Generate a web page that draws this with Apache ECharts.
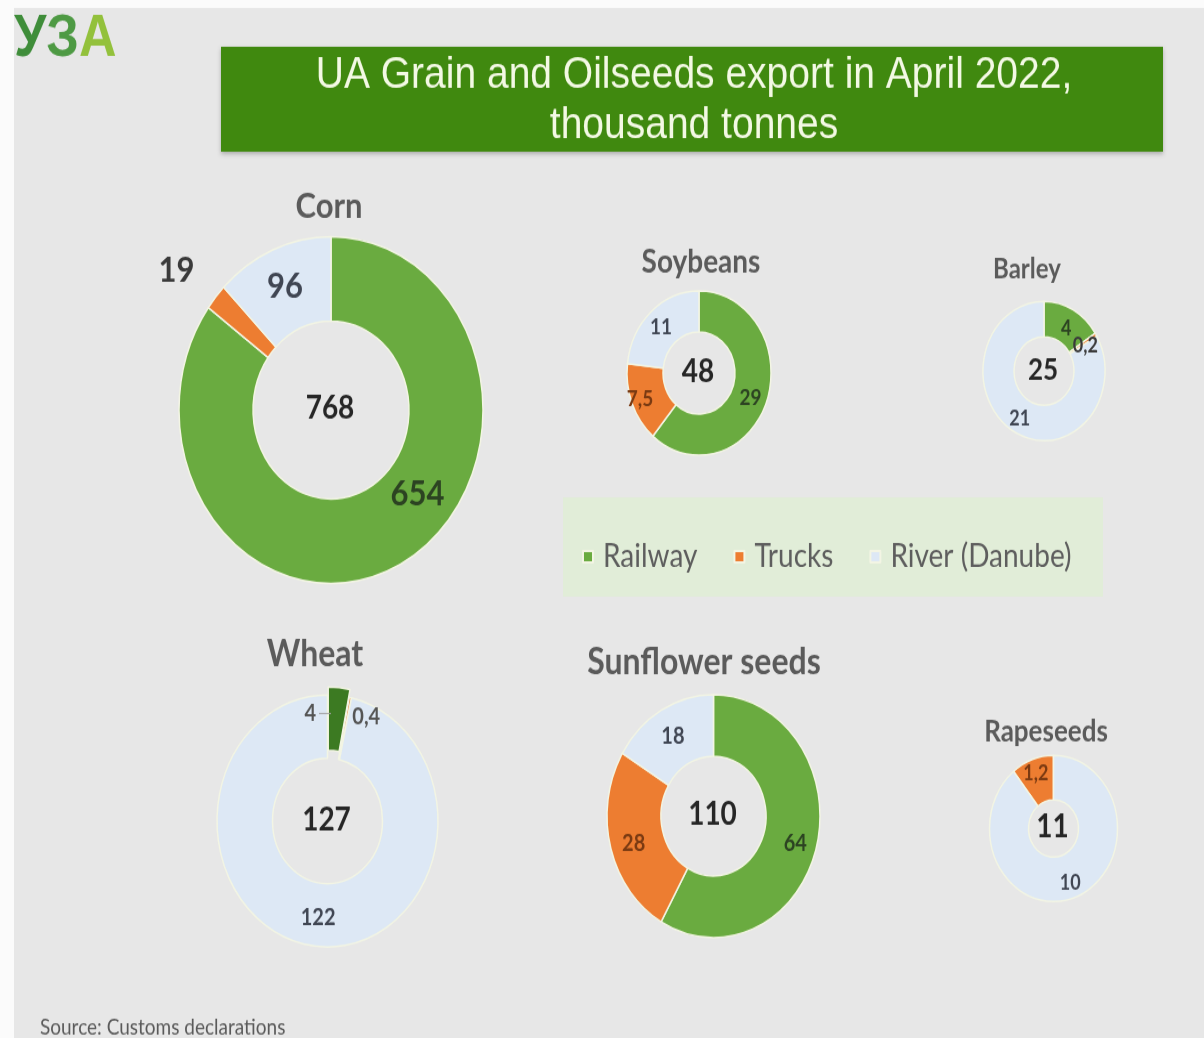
<!DOCTYPE html>
<html>
<head>
<meta charset="utf-8">
<script src="https://cdn.jsdelivr.net/npm/echarts@6/dist/echarts.min.js"></script>
<style>
  html, body { margin: 0; padding: 0; background: #ffffff; width: 1204px; height: 1038px; }
  /* the whole infographic is drawn on a 1204x910 canvas and stretched vertically */
  #chart { width: 1204px; height: 910px; transform: scaleY(1.1407); transform-origin: 0 0; }
</style>
</head>
<body>
<div id="chart"></div>
<script>
// ---- data (thousand tonnes) ----
const transportModes = ['Railway', 'Trucks', 'River (Danube)'];
const crops = ['Corn', 'Soybeans', 'Barley', 'Wheat', 'Sunflower seeds', 'Rapeseeds'];
const railway = [654, 29, 4, 4, 64, 0];
const trucks = [19, 7.5, 0.2, 0.4, 28, 1.2];
const river = [96, 11, 21, 122, 18, 10];
const totals = [768, 48, 25, 127, 110, 11];

// ---- styling ----
const modeColors = ['#6aab40', '#ed7d31', '#dde8f5'];
const modeLabelColors = ['#2c4322', '#7a3a12', '#404653'];
const BG = '#e7e7e7';
const FONT = 'Lato, "Open Sans", sans-serif';

// per-donut placement: centre, radii, heading position, font sizes and label nudges
const layout = [
  { cx: 331, cy: 359.4, r0: 78, r: 152, tx: 329, ty: 180.6, ts: 31, totSize: 28, lblSize: 31,
    offsets: [[33, -32], [-65, -46], [-1, 1]], labelColors: [null, '#3a3a3a', null], start: 90 },
  { cx: 699, cy: 327, r0: 36, r: 72, tx: 701, ty: 229.7, ts: 28, totSize: 28, lblSize: 19,
    offsets: [[-2, 2], [-6, 2], [0, 2]], labelColors: [null, null, null], start: 90 },
  { cx: 1044, cy: 325.2, r0: 30, r: 61, tx: 1027, ty: 235.8, ts: 24, totSize: 26, lblSize: 18,
    offsets: [[-1, 6], [0, 3], [0, 0]], labelColors: [null, '#3a3a3a', null], start: 90 },
  { cx: 327.5, cy: 719.7, r0: 55, r: 110.5, tx: 315, ty: 574, ts: 32, totSize: 28, lblSize: 20,
    offsets: [[-19, -2], [21, -7], [0, 0]], labelColors: ['#555555', '#555555', null], start: 90,
    explode: 0, explodeColor: '#3c7a22' },
  { cx: 713.5, cy: 715.4, r0: 52.5, r: 106.5, tx: 704, ty: 581, ts: 32, totSize: 28, lblSize: 20,
    offsets: [[2, 3], [0, 3], [0, 2]], labelColors: [null, null, null], start: 90 },
  { cx: 1053.5, cy: 726.3, r0: 25, r: 64, tx: 1046, ty: 641.7, ts: 26, totSize: 28, lblSize: 18,
    offsets: [[0, 0], [-2, -3], [1, 3]], labelColors: [null, null, null], start: 128.6 }
];

const fmt = v => String(v).replace('.', ',');

const series = crops.map((crop, i) => {
  const L = layout[i];
  const values = [railway[i], trucks[i], river[i]];
  const data = [];
  values.forEach((v, m) => {
    if (!(v > 0)) return;
    const item = {
      name: transportModes[m],
      value: v,
      itemStyle: { color: modeColors[m] },
      label: {
        offset: L.offsets[m],
        color: L.labelColors[m] || modeLabelColors[m]
      }
    };
    if (L.explode === m) {
      // pulled-out slice with a short leader dash after its value
      const lbl = {
        offset: L.offsets[m],
        color: L.labelColors[m],
        formatter: p => '{v|' + fmt(p.value) + '}{ln| }',
        rich: {
          v: { fontSize: L.lblSize, fontWeight: 'bold', fontFamily: FONT, color: L.labelColors[m], padding: [0, 3, 0, 0] },
          ln: { width: 12, height: 1, backgroundColor: '#a0a0a0', fontSize: 4 }
        }
      };
      item.selected = true;
      item.itemStyle.color = L.explodeColor;
      item.label = lbl;
      item.select = { label: lbl, itemStyle: { color: L.explodeColor } };
    }
    data.push(item);
  });
  return {
    type: 'pie',
    name: crop,
    center: [L.cx, L.cy],
    radius: [L.r0, L.r],
    startAngle: L.start,
    clockwise: true,
    avoidLabelOverlap: false,
    selectedMode: L.explode !== undefined ? 'single' : false,
    selectedOffset: 7,
    silent: true,
    emphasis: { disabled: true },
    select: { itemStyle: { color: L.explodeColor || modeColors[0], borderColor: '#f3f5e4', borderWidth: 1.5 } },
    itemStyle: { borderColor: '#f3f5e4', borderWidth: 1.5 },
    label: {
      show: true,
      position: 'inside',
      formatter: p => fmt(p.value),
      fontFamily: FONT,
      fontWeight: 'bold',
      fontSize: L.lblSize
    },
    labelLine: { show: false },
    data: data
  };
});

const logoFont = 'bold 52px "Liberation Sans", sans-serif';
const graphics = [
  // white margin strips
  { type: 'rect', shape: { x: 0, y: 0, width: 14, height: 910 }, style: { fill: '#fbfbfb' } },
  { type: 'rect', shape: { x: 0, y: 0, width: 1204, height: 7 }, style: { fill: '#fbfbfb' } },
  // logo
  { type: 'text', x: 14, y: 9, style: {
      text: '{a|У}{b|З}{c|А}', rich: {
        a: { fill: '#3f8d3a', font: logoFont },
        b: { fill: '#4e9a44', font: logoFont },
        c: { fill: '#93c13c', font: logoFont }
      } } },
  // heading banner
  { type: 'rect', shape: { x: 221, y: 41, width: 942, height: 92 },
    style: { fill: '#40890f', shadowBlur: 4, shadowOffsetY: 2, shadowColor: 'rgba(0,0,0,0.25)' } },
  { type: 'text', x: 694, y: 88, style: {
      text: 'UA Grain and Oilseeds export in April 2022,\nthousand tonnes',
      fill: '#f3f9e4', align: 'center', verticalAlign: 'middle', lineHeight: 44,
      font: '39px "Liberation Sans", sans-serif' } },
  // legend panel
  { type: 'rect', shape: { x: 563, y: 436, width: 540, height: 87 }, style: { fill: '#e1edd8' } },
  // source note
  { type: 'text', x: 40, y: 901, style: {
      text: 'Source: Customs declarations', fill: '#5a5a5a', align: 'left', verticalAlign: 'middle',
      font: '19px ' + FONT } }
];

crops.forEach((crop, i) => {
  const L = layout[i];
  graphics.push({ type: 'text', x: L.tx, y: L.ty, style: {
    text: crop, fill: '#5b5b5b', align: 'center', verticalAlign: 'middle',
    font: 'bold ' + L.ts + 'px ' + FONT } });
  graphics.push({ type: 'text', x: L.cx - 1, y: L.cy - 1, style: {
    text: String(totals[i]), fill: '#262626', align: 'center', verticalAlign: 'middle',
    font: 'bold ' + L.totSize + 'px ' + FONT } });
});

const chart = echarts.init(document.getElementById('chart'), null, { renderer: 'canvas' });
chart.setOption({
  backgroundColor: BG,
  animation: false,
  legend: {
    data: transportModes,
    left: 577,
    top: 469,
    icon: 'rect',
    itemWidth: 10,
    itemHeight: 10,
    itemGap: 36,
    selectedMode: false,
    textStyle: { fontSize: 28, color: '#5e5e5e', fontFamily: FONT, padding: [0, 0, 0, 5] }
  },
  graphic: graphics,
  series: series
});
</script>
</body>
</html>
